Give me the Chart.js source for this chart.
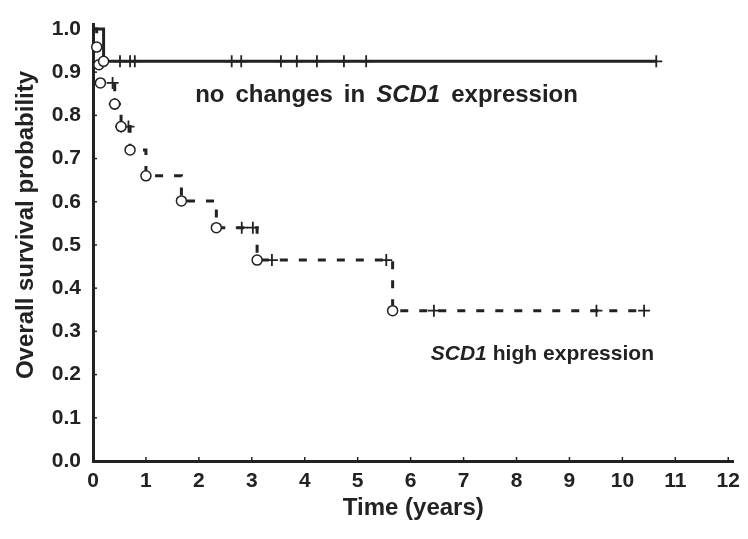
<!DOCTYPE html>
<html>
<head>
<meta charset="utf-8">
<script src="https://cdn.jsdelivr.net/npm/chart.js@4.4.0/dist/chart.umd.min.js"></script>
<style>
  html, body { margin: 0; padding: 0; background: #fff; }
  #wrap { width: 748px; height: 539px; }
</style>
</head>
<body>
<div id="wrap"><canvas id="kmChart" width="748" height="539"></canvas></div>
<script>
// tick labels
var xTickValues = [0, 1, 2, 3, 4, 5, 6, 7, 8, 9, 10, 11, 12];
var yTickValues = [0, 0.1, 0.2, 0.3, 0.4, 0.5, 0.6, 0.7, 0.8, 0.9, 1.0];

// no changes in SCD1 expression (solid)
var noChangeTimes = [0, 0.2, 10.64];
var noChangeSurv = [1.0, 0.925, 0.925];
var noChangeEvents = [0.2];
var noChangeCensored = [0.2, 0.51, 0.70, 0.79, 2.62, 2.80, 3.55, 3.85, 4.23, 4.74, 5.16, 10.64];

// SCD1 high expression (dashed)
var highTimes = [0, 0.07, 0.11, 0.14, 0.41, 0.53, 0.70, 1.0, 1.67, 2.33, 3.10, 5.66, 10.46];
var highSurv = [1.0, 0.958, 0.917, 0.875, 0.826, 0.774, 0.720, 0.660, 0.602, 0.540, 0.465, 0.348, 0.348];
var highEvents = [0.07, 0.11, 0.14, 0.41, 0.53, 0.70, 1.0, 1.67, 2.33, 3.10, 5.66];
var highCensored = [0.37, 0.41, 0.53, 0.67, 2.81, 3.02, 3.38, 5.54, 6.44, 9.51, 10.41];

var ink = '#222222';
var fontFamily = "'Liberation Sans', Arial, sans-serif";

function levelAt(times, surv, t) {
    var v = surv[0];
    for (var i = 0; i < times.length; i++) {
        if (times[i] <= t + 1e-9) v = surv[i];
    }
    return v;
}
function points(times, values) {
    return times.map(function (t, i) { return { x: t, y: values[i] }; });
}
function marks(list, times, surv) {
    return list.map(function (t) { return { x: t, y: levelAt(times, surv, t) }; });
}

// inward ticks, y title and the two curve labels
var extrasPlugin = {
    id: 'extras',
    afterDraw: function (chart) {
        var ctx = chart.ctx;
        var xs = chart.scales.x, ys = chart.scales.y;
        var area = chart.chartArea;
        ctx.save();
        ctx.strokeStyle = ink;
        ctx.lineWidth = 1.5;
        xTickValues.forEach(function (v) {
            if (v === 0) return;
            var px = xs.getPixelForValue(v);
            ctx.beginPath();
            ctx.moveTo(px, area.bottom);
            ctx.lineTo(px, area.bottom - 4);
            ctx.stroke();
        });
        yTickValues.forEach(function (v) {
            if (v === 0) return;
            var py = ys.getPixelForValue(v);
            ctx.beginPath();
            ctx.moveTo(area.left, py);
            ctx.lineTo(area.left + 4, py);
            ctx.stroke();
        });

        ctx.fillStyle = ink;

        // y axis title
        ctx.save();
        ctx.translate(26, 225);
        ctx.rotate(-Math.PI / 2);
        ctx.textAlign = 'center';
        ctx.textBaseline = 'middle';
        ctx.font = 'bold 24px ' + fontFamily;
        ctx.fillText('Overall survival probability', 0, 0);
        ctx.restore();

        ctx.textBaseline = 'alphabetic';
        ctx.textAlign = 'left';
        // words drawn one by one so the spacing can follow the figure
        function drawWords(words, xv, yv, size, gap) {
            var x = xs.getPixelForValue(xv);
            var y = ys.getPixelForValue(yv);
            words.forEach(function (w) {
                ctx.font = (w.italic ? 'italic ' : '') + 'bold ' + size + 'px ' + fontFamily;
                ctx.fillText(w.text, x, y);
                x += ctx.measureText(w.text).width + gap;
            });
        }
        drawWords([{ text: 'no' }, { text: 'changes' }, { text: 'in' }, { text: 'SCD1', italic: true }, { text: 'expression' }],
            1.93, 0.83, 24, 11);
        drawWords([{ text: 'SCD1', italic: true }, { text: 'high' }, { text: 'expression' }],
            6.38, 0.234, 21, 6);
        ctx.restore();
    }
};

var ctx = document.getElementById('kmChart').getContext('2d');
var kmChart = new Chart(ctx, {
    type: 'line',
    data: {
        datasets: [
            {
                label: 'no changes events',
                data: marks(noChangeEvents, noChangeTimes, noChangeSurv),
                showLine: false,
                pointStyle: 'circle',
                pointRadius: 5,
                pointBorderWidth: 1.5,
                pointBorderColor: ink,
                pointBackgroundColor: '#fff',
                clip: false
            },
            {
                label: 'high events',
                data: marks(highEvents, highTimes, highSurv),
                showLine: false,
                pointStyle: 'circle',
                pointRadius: 5,
                pointBorderWidth: 1.5,
                pointBorderColor: ink,
                pointBackgroundColor: '#fff',
                clip: false
            },
            {
                label: 'no changes censored',
                data: marks(noChangeCensored, noChangeTimes, noChangeSurv),
                showLine: false,
                pointStyle: 'cross',
                pointRadius: 6,
                pointBorderWidth: 1.8,
                pointBorderColor: ink,
                clip: false
            },
            {
                label: 'high censored',
                data: marks(highCensored, highTimes, highSurv),
                showLine: false,
                pointStyle: 'cross',
                pointRadius: 6,
                pointBorderWidth: 1.8,
                pointBorderColor: ink,
                clip: false
            },
            {
                label: 'no changes in SCD1 expression',
                data: points(noChangeTimes, noChangeSurv),
                stepped: true,
                borderColor: ink,
                borderWidth: 3,
                pointRadius: 0,
                fill: false,
                clip: false
            },
            {
                label: 'SCD1 high expression',
                data: points(highTimes, highSurv),
                stepped: true,
                borderColor: ink,
                borderWidth: 3,
                borderDash: [8, 11],
                pointRadius: 0,
                fill: false,
                clip: false
            }
        ]
    },
    options: {
        responsive: false,
        animation: false,
        events: [],
        layout: { padding: { left: 0, top: 13, right: 2, bottom: 0 } },
        plugins: {
            legend: { display: false },
            tooltip: { enabled: false }
        },
        scales: {
            x: {
                type: 'linear',
                min: 0,
                max: 12.1,
                afterBuildTicks: function (scale) {
                    scale.ticks = xTickValues.map(function (v) { return { value: v }; });
                },
                afterFit: function (scale) { scale.height = 78; },
                grid: { display: false, drawTicks: false },
                border: { display: true, color: ink, width: 3 },
                ticks: {
                    color: ink,
                    padding: 8,
                    maxRotation: 0,
                    font: { family: fontFamily, size: 21, weight: 'bold' },
                    callback: function (v) { return String(v); }
                },
                title: {
                    display: true,
                    text: 'Time (years)',
                    color: ink,
                    font: { family: fontFamily, size: 24, weight: 'bold' },
                    padding: { top: 0, bottom: 16 }
                }
            },
            y: {
                type: 'linear',
                min: 0,
                max: 1.01,
                afterBuildTicks: function (scale) {
                    scale.ticks = yTickValues.map(function (v) { return { value: v }; });
                },
                afterFit: function (scale) { scale.width = 93; },
                grid: { display: false, drawTicks: false },
                border: { display: true, color: ink, width: 3 },
                ticks: {
                    color: ink,
                    padding: 12,
                    font: { family: fontFamily, size: 21, weight: 'bold' },
                    callback: function (v) { return v.toFixed(1); }
                }
            }
        }
    },
    plugins: [extrasPlugin]
});
</script>
</body>
</html>
